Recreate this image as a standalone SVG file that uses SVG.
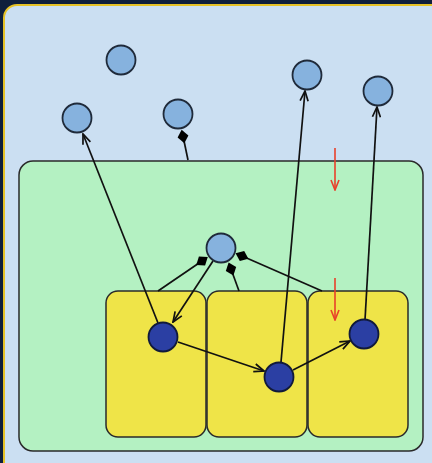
<svg xmlns="http://www.w3.org/2000/svg" width="432" height="463" viewBox="0 0 432 463">
<style>
.cell{fill:#efe448;stroke:#2a2a2a;stroke-width:1.5}
.lb{fill:#86b2de;stroke:#1f2a3a;stroke-width:1.8}
.db{fill:#2b3fa3;stroke:#111a3a;stroke-width:1.8}
.ln{stroke:#111;stroke-width:1.7;fill:none}
.red{stroke:#e8402a;stroke-width:1.6;fill:none}
.dia{fill:#000}
</style>
<defs>
<marker id="ar" viewBox="0 0 12 10" refX="11" refY="5" markerWidth="12" markerHeight="10" markerUnits="userSpaceOnUse" orient="auto">
<path d="M1,1 L11,5 L1,9" fill="none" stroke="#111" stroke-width="1.7"/>
</marker>
<marker id="arr" viewBox="0 0 12 10" refX="11" refY="5" markerWidth="12" markerHeight="10" markerUnits="userSpaceOnUse" orient="auto">
<path d="M1,1 L11,5 L1,9" fill="none" stroke="#e8402a" stroke-width="1.6"/>
</marker>
<path id="dmd" d="M-7,0 L0,-5.5 L7,0 L0,5.5 Z"/>
</defs>
<rect x="0" y="0" width="432" height="463" fill="#0f1f3c"/>
<rect id="panel" x="4" y="5" width="440" height="470" rx="13" fill="#cbdff2" stroke="#e6c227" stroke-width="2"/>
<rect id="region" x="19" y="161" width="404" height="290" rx="14" fill="#b4f1c2" stroke="#2a2a2a" stroke-width="1.5"/>
<g id="cells">
<rect id="cell1" class="cell" x="106" y="291" width="100" height="146" rx="12"/>
<rect id="cell2" class="cell" x="207" y="291" width="100" height="146" rx="12"/>
<rect id="cell3" class="cell" x="308" y="291" width="100" height="146" rx="12"/>
</g>
<g id="connectors">
<line class="ln" x1="188" y1="160" x2="183" y2="136"/>
<use href="#dmd" class="dia" transform="translate(183,136.5) rotate(-101.3)"/>
<line class="ln" x1="158" y1="291" x2="202" y2="261"/>
<use href="#dmd" class="dia" transform="translate(202,261) rotate(-34.3)"/>
<line class="ln" x1="239" y1="291" x2="231" y2="269"/>
<use href="#dmd" class="dia" transform="translate(231,269) rotate(-110)"/>
<line class="ln" x1="322" y1="291" x2="242" y2="256"/>
<use href="#dmd" class="dia" transform="translate(242,256) rotate(-156.4)"/>
<line class="ln" x1="158" y1="323" x2="83" y2="134" marker-end="url(#ar)"/>
<line class="ln" x1="213" y1="261" x2="173" y2="322" marker-end="url(#ar)"/>
<line class="ln" x1="178" y1="342" x2="264" y2="371" marker-end="url(#ar)"/>
<line class="ln" x1="281" y1="362" x2="305" y2="91" marker-end="url(#ar)"/>
<line class="ln" x1="293" y1="370" x2="350" y2="341" marker-end="url(#ar)"/>
<line class="ln" x1="365" y1="320" x2="377" y2="107" marker-end="url(#ar)"/>
<line class="red" x1="335" y1="148" x2="335" y2="190" marker-end="url(#arr)"/>
<line class="red" x1="335" y1="278" x2="335" y2="320" marker-end="url(#arr)"/>
</g>
<g id="n1"><circle class="lb" cx="121" cy="60" r="14.5"/></g>
<g id="n2"><circle class="lb" cx="77" cy="118" r="14.5"/></g>
<g id="n3"><circle class="lb" cx="178" cy="114" r="14.5"/></g>
<g id="n4"><circle class="lb" cx="307" cy="75" r="14.5"/></g>
<g id="n5"><circle class="lb" cx="378" cy="91" r="14.5"/></g>
<g id="n6"><circle class="lb" cx="221" cy="248" r="14.5"/></g>
<g id="d1"><circle class="db" cx="163" cy="337" r="14.5"/></g>
<g id="d2"><circle class="db" cx="279" cy="377" r="14.5"/></g>
<g id="d3"><circle class="db" cx="364" cy="334" r="14.5"/></g>
</svg>
